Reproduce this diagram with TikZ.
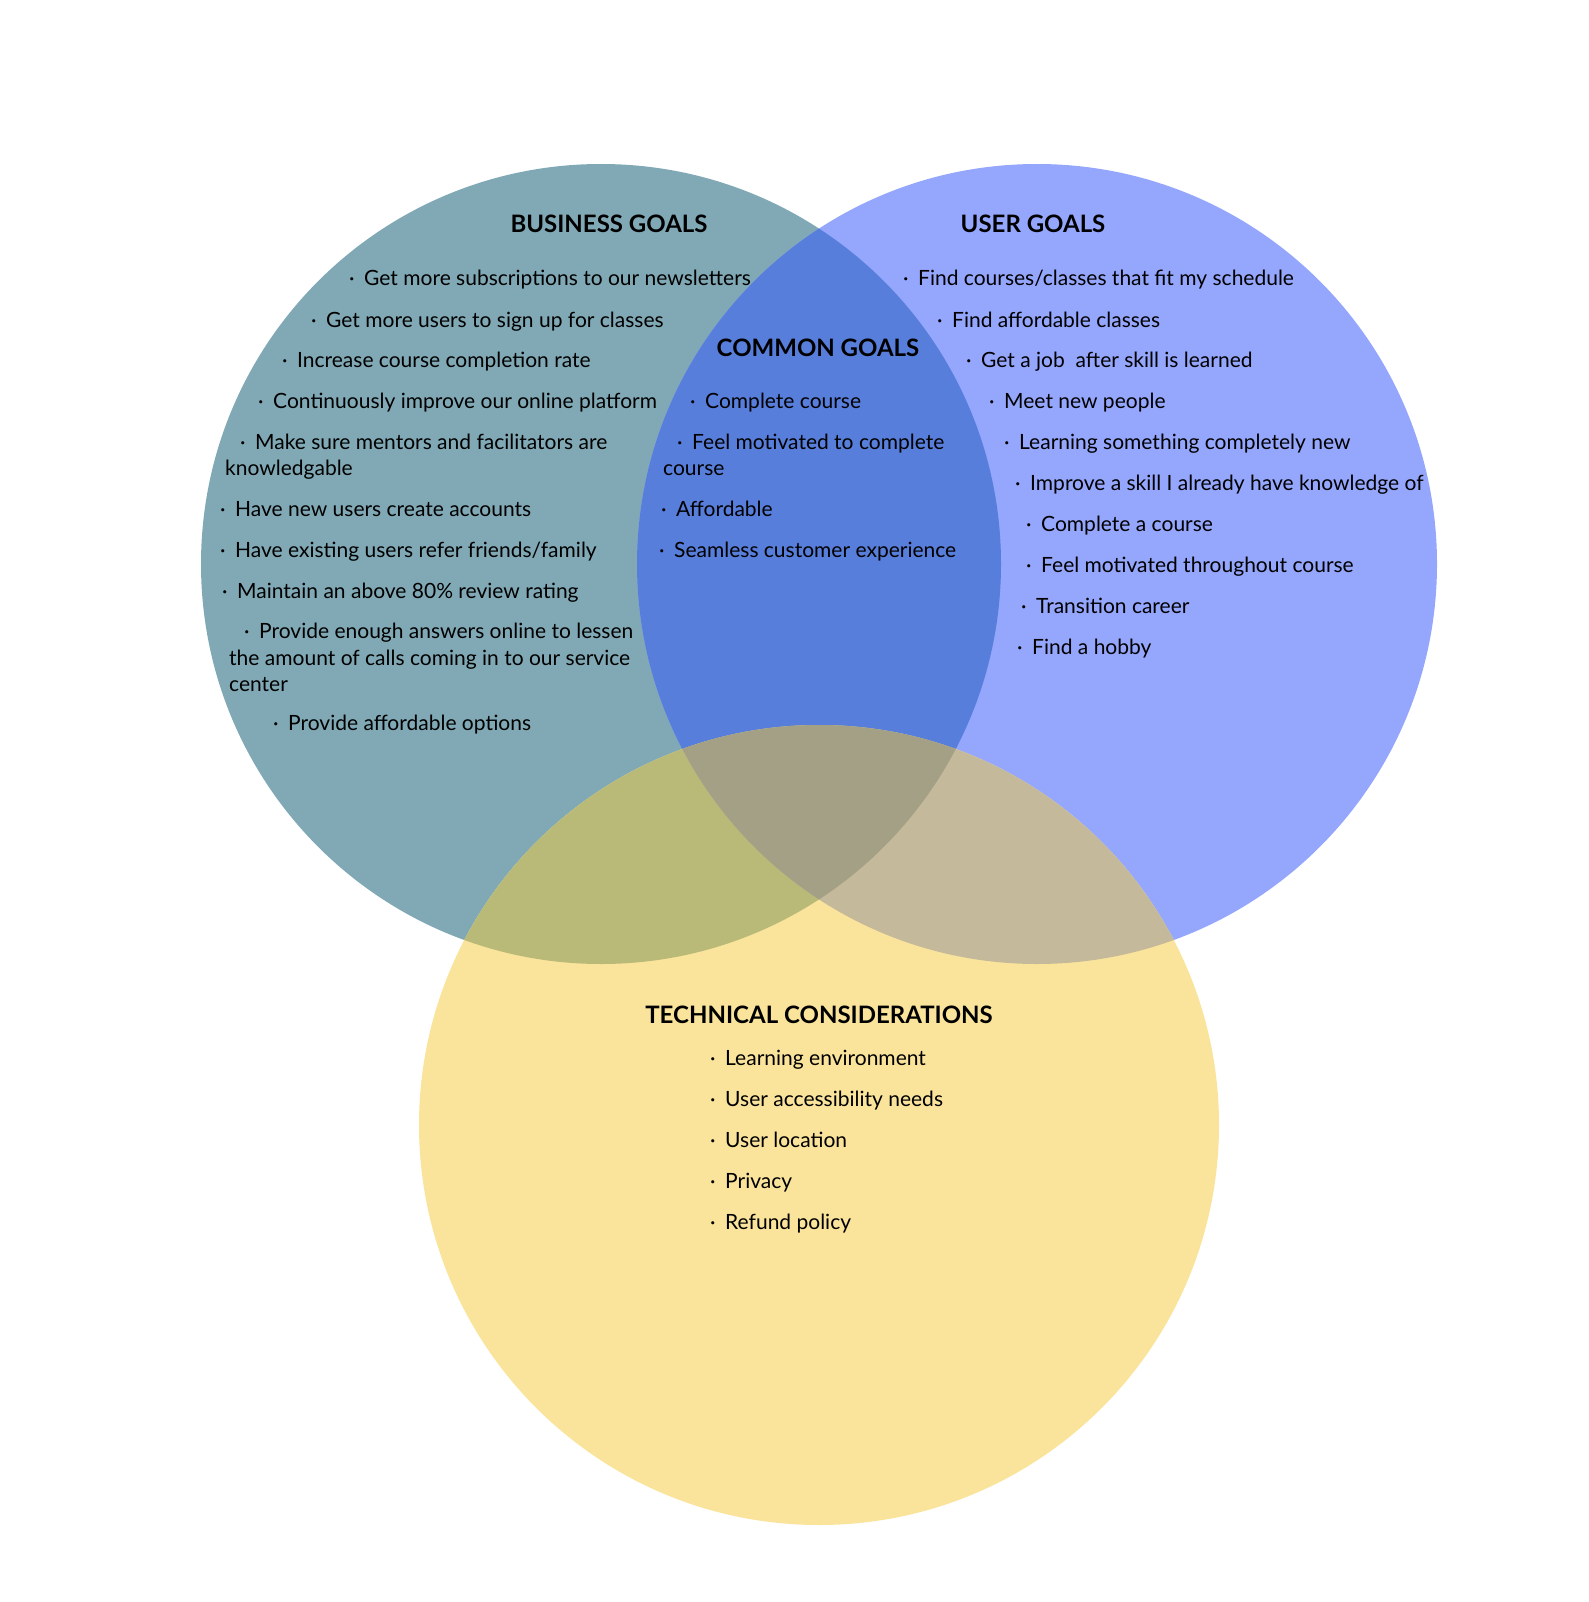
\documentclass[tikz,border=0pt]{standalone}
\usepackage{fontspec}
\setmainfont{Lato}
\usepackage{xcolor}

% region colours
\definecolor{bizteal}{HTML}{80A9B5}
\definecolor{userblue}{HTML}{95A6FD}
\definecolor{techyellow}{HTML}{FAE49B}
\definecolor{bizuser}{HTML}{587EDB}
\definecolor{biztech}{HTML}{B9BA78}
\definecolor{usertech}{HTML}{C5B99B}
\definecolor{allthree}{HTML}{A3A086}

\newcommand{\itemfont}{\fontsize{21}{26}\selectfont}
\newcommand{\headfont}{\fontsize{24}{28}\selectfont\bfseries}
\newcommand{\bul}{\makebox[15pt][l]{\textperiodcentered}}

\begin{document}
\begin{tikzpicture}[
    x=1pt, y=-1pt,
    item/.style={anchor=base west, inner sep=0pt, font=\itemfont, text=black},
    heading/.style={anchor=base, inner sep=0pt, font=\headfont, text=black},
    ring/.style={radius=400pt},
]
\useasboundingbox (0,0) rectangle (1588,1602);

% Circle centres
\coordinate (bizc) at (601,564);
\coordinate (userc) at (1037,564);
\coordinate (techc) at (819,1125);

% Circles
\fill[bizteal] (bizc) circle[ring];
\fill[userblue] (userc) circle[ring];
\fill[techyellow] (techc) circle[ring];

% Overlaps
\begin{scope}
  \clip (bizc) circle[ring];
  \fill[bizuser] (userc) circle[ring];
  \fill[biztech] (techc) circle[ring];
\end{scope}
\begin{scope}
  \clip (userc) circle[ring];
  \fill[usertech] (techc) circle[ring];
\end{scope}
\begin{scope}
  \clip (bizc) circle[ring];
  \clip (userc) circle[ring];
  \fill[allthree] (techc) circle[ring];
\end{scope}

% Business goals
\node[heading] (bizhead) at (609,233) {BUSINESS GOALS};
\node[item] (biz1) at (349,286) {\bul Get more subscriptions to our newsletters};
\node[item] (biz2) at (311,327) {\bul Get more users to sign up for classes};
\node[item] (biz3) at (282,367) {\bul Increase course completion rate};
\node[item] (biz4) at (258,408) {\bul Continuously improve our online platform};
\node[item] (biz5) at (240,449) {\bul Make sure mentors and facilitators are};
\node[item] (biz5b) at (225,475) {knowledgable};
\node[item] (biz6) at (220,516) {\bul Have new users create accounts};
\node[item] (biz7) at (220,557) {\bul Have existing users refer friends/family};
\node[item] (biz8) at (222,598) {\bul Maintain an above 80\% review rating};
\node[item] (biz9) at (244,638) {\bul Provide enough answers online to lessen};
\node[item] (biz9b) at (229,665) {the amount of calls coming in to our service};
\node[item] (biz9c) at (229,691) {center};
\node[item] (biz10) at (273,730) {\bul Provide affordable options};

% Common goals
\node[heading] (comhead) at (818,356) {COMMON GOALS};
\node[item] (com1) at (690,408) {\bul Complete course};
\node[item] (com2) at (677,449) {\bul Feel motivated to complete};
\node[item] (com2b) at (663,475) {course};
\node[item] (com3) at (661,516) {\bul Affordable};
\node[item] (com4) at (659,557) {\bul Seamless customer experience};

% User goals
\node[heading] (userhead) at (1033,233) {USER GOALS};
\node[item] (user1) at (903,286) {\bul Find courses/classes that fit my schedule};
\node[item] (user2) at (937,327) {\bul Find affordable classes};
\node[item] (user3) at (966,367) {\bul Get a job\ \ after skill is learned};
\node[item] (user4) at (989,408) {\bul Meet new people};
\node[item] (user5) at (1004,449) {\bul Learning something completely new};
\node[item] (user6) at (1015,490) {\bul Improve a skill I already have knowledge of};
\node[item] (user7) at (1026,531) {\bul Complete a course};
\node[item] (user8) at (1026,572) {\bul Feel motivated throughout course};
\node[item] (user9) at (1021,613) {\bul Transition career};
\node[item] (user10) at (1017,654) {\bul Find a hobby};

% Technical considerations
\node[heading] (techhead) at (819,1023) {TECHNICAL CONSIDERATIONS};
\node[item] (tech1) at (710,1065) {\bul Learning environment};
\node[item] (tech2) at (710,1106) {\bul User accessibility needs};
\node[item] (tech3) at (710,1147) {\bul User location};
\node[item] (tech4) at (710,1188) {\bul Privacy};
\node[item] (tech5) at (710,1229) {\bul Refund policy};

\end{tikzpicture}
\end{document}
